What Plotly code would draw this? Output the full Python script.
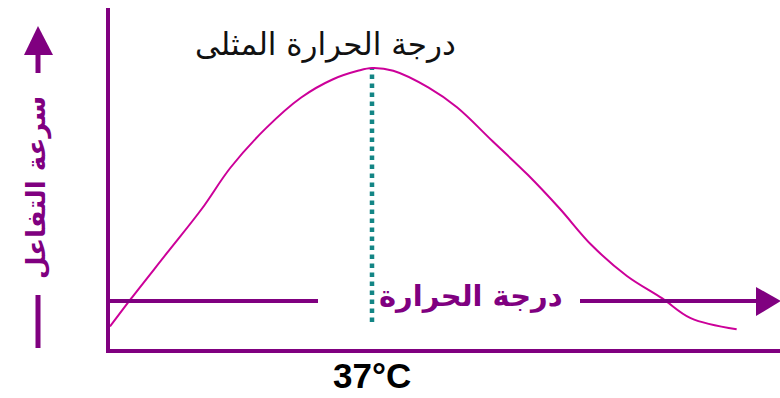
import plotly.graph_objects as go

# Reaction rate vs temperature (relative units, peak = 100)
temperature_c = [0, 3, 8, 13, 17, 22, 27, 31.5, 35, 37, 40, 45, 49, 54, 59, 63.5, 68, 73, 78, 82, 88.5]
reaction_rate = [8, 18, 34, 50, 64.5, 78.5, 89.5, 96, 99, 100, 99, 93, 86, 74, 62, 50, 37, 26, 18, 11, 7]

optimum_temp = 37
optimum_label = "37°C"
title_text = "درجة الحرارة المثلى"
x_label = "درجة الحرارة"
y_label = "سرعة التفاعل"

W, H = 780, 398
L, R, T, B = 110, 0, 8, 49

PURPLE = "#800080"
MAGENTA = "#cc0099"
TEAL = "#138585"

X_RANGE = [0, 94.62]
Y_RANGE = [0, 121.35]


def paper(x_px, y_px):
    """Figure pixel position -> paper coordinates."""
    return (x_px - L) / (W - L - R), (H - B - y_px) / (H - T - B)


fig = go.Figure()

# Optimum temperature marker (dotted vertical)
fig.add_trace(go.Scatter(
    x=[optimum_temp, optimum_temp],
    y=[9.6, max(reaction_rate)],
    mode="lines",
    line=dict(color=TEAL, width=4.5, dash="4.5px,4.5px"),
    hoverinfo="skip",
))

# Rate curve
fig.add_trace(go.Scatter(
    x=temperature_c,
    y=reaction_rate,
    mode="lines",
    line=dict(color=MAGENTA, width=2, shape="spline", smoothing=1.0),
))

shapes = []

# Horizontal temperature arrow (two segments around the label) + head
x0, y0 = paper(110, 301)
x1, _ = paper(318, 301)
shapes.append(dict(type="line", xref="paper", yref="paper", x0=x0, y0=y0, x1=x1, y1=y0,
                   line=dict(color=PURPLE, width=4)))
x2, _ = paper(580, 301)
x3, _ = paper(760, 301)
shapes.append(dict(type="line", xref="paper", yref="paper", x0=x2, y0=y0, x1=x3, y1=y0,
                   line=dict(color=PURPLE, width=4)))
hx0, hy_top = paper(756, 287)
hx1, hy_mid = paper(781, 301)
_, hy_bot = paper(756, 316)
shapes.append(dict(type="path", xref="paper", yref="paper",
                   path=f"M {hx0} {hy_top} L {hx1} {hy_mid} L {hx0} {hy_bot} Z",
                   fillcolor=PURPLE, line=dict(color=PURPLE, width=0)))

# Vertical rate arrow on the left + lower tail segment
sx, s_top = paper(38, 52)
_, s_bot = paper(38, 73)
shapes.append(dict(type="line", xref="paper", yref="paper", x0=sx, y0=s_top, x1=sx, y1=s_bot,
                   line=dict(color=PURPLE, width=5)))
ax0, a_base = paper(24, 55)
ax_tip, a_tip = paper(38, 26)
ax1, _ = paper(53, 55)
shapes.append(dict(type="path", xref="paper", yref="paper",
                   path=f"M {ax0} {a_base} L {ax_tip} {a_tip} L {ax1} {a_base} Z",
                   fillcolor=PURPLE, line=dict(color=PURPLE, width=0)))
_, t_top = paper(38, 295)
_, t_bot = paper(38, 348)
shapes.append(dict(type="line", xref="paper", yref="paper", x0=sx, y0=t_top, x1=sx, y1=t_bot,
                   line=dict(color=PURPLE, width=5)))

annotations = []
ax_, ay_ = paper(325, 44)
annotations.append(dict(x=ax_, y=ay_, xref="paper", yref="paper", text=title_text,
                        showarrow=False, xanchor="center", yanchor="middle",
                        font=dict(family="DejaVu Sans", size=31, color="#111111")))
ax_, ay_ = paper(471, 296)
annotations.append(dict(x=ax_, y=ay_, xref="paper", yref="paper", text=f"<b>{x_label}</b>",
                        showarrow=False, xanchor="center", yanchor="middle",
                        font=dict(family="DejaVu Sans", size=29, color=PURPLE)))
ax_, ay_ = paper(36, 188)
annotations.append(dict(x=ax_, y=ay_, xref="paper", yref="paper", text=f"<b>{y_label}</b>",
                        showarrow=False, xanchor="center", yanchor="middle", textangle=-90,
                        font=dict(family="DejaVu Sans", size=26, color=PURPLE)))
_, ly = paper(0, 397)
annotations.append(dict(x=optimum_temp, y=ly, xref="x", yref="paper", text=f"<b>{optimum_label}</b>",
                        showarrow=False, xanchor="center", yanchor="bottom",
                        font=dict(family="Liberation Sans", size=35, color="#000000")))

fig.update_layout(
    width=W, height=H,
    margin=dict(l=L, r=R, t=T, b=B, pad=0),
    paper_bgcolor="white", plot_bgcolor="white",
    showlegend=False,
    shapes=shapes,
    annotations=annotations,
    xaxis=dict(range=X_RANGE, showgrid=False, zeroline=False, showticklabels=False, ticks="",
               showline=True, linecolor=PURPLE, linewidth=4, fixedrange=True),
    yaxis=dict(range=Y_RANGE, showgrid=False, zeroline=False, showticklabels=False, ticks="",
               showline=True, linecolor=PURPLE, linewidth=4, fixedrange=True),
)

fig.write_html("out.html", config={"displayModeBar": False})
